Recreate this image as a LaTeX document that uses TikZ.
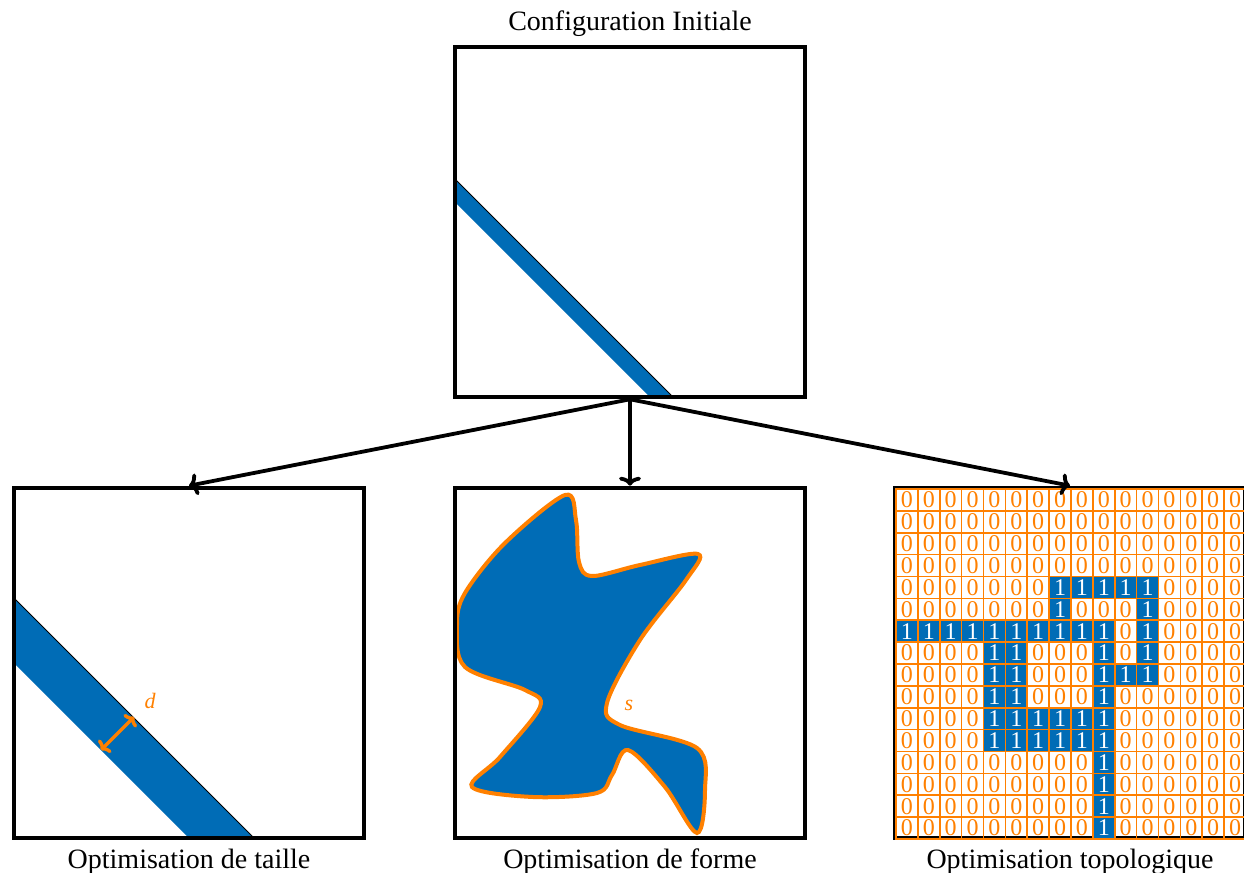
\documentclass[tikz,border=0pt]{standalone}
\usepackage{fontspec}
\setmainfont{Liberation Serif}
\usepackage{tikz}
\usetikzlibrary{arrows.meta, positioning}
\definecolor{pblue}{RGB}{0,108,182}
\definecolor{porange}{RGB}{255,128,0}
\tikzstyle{panel} = [rectangle, minimum width=175pt, minimum height=175pt, draw=black, line width=2.3pt, inner sep=0pt]
\tikzstyle{ptitle} = [font=\fontsize{14}{17}\selectfont, inner sep=0pt]
\tikzstyle{band} = [fill=pblue]
\tikzstyle{edge} = [draw=black, line width=0.4pt]
\tikzstyle{cell0} = [rectangle, minimum size=10.9375pt, inner sep=0pt, draw=porange, line width=0.8pt, text=porange, font=\fontsize{12}{12}\selectfont]
\tikzstyle{cell1} = [cell0, fill=pblue, text=white]
\tikzstyle{param} = [text=porange, font=\fontsize{11}{12}\selectfont\itshape]
\tikzstyle{arrow} = [line width=1.9pt, -{To[length=4.5pt, width=11pt]}]
\tikzstyle{darrow} = [line width=1.7pt, draw=porange, {To[length=3.5pt, width=9pt]}-{To[length=3.5pt, width=9pt]}]

\begin{document}
\begin{tikzpicture}[x=0.5pt, y=-0.5pt]
\useasboundingbox (0,0) rectangle (1244,873);
% bandes diagonales
\fill [band] (455,179) -- (674,398) -- (651,398) -- (455,202) -- cycle;
\draw [edge] (455,179) -- (674,398);
\fill [band] (14,598) -- (254,838) -- (189,838) -- (14,663) -- cycle;
\draw [edge] (14,598) -- (254,838);
% forme libre
\draw [porange, line width=2pt, fill=pblue] plot [smooth cycle, tension=0.55] coordinates {
  (565,495) (576,520) (579,562) (592,576) (640,565) (698,554) (686,580)
  (640,640) (607,703) (620,725) (697,748) (705,790) (697,833) (665,787)
  (628,750) (612,775) (597,793) (533,797) (472,787) (500,757) (540,707)
  (525,690) (465,667) (457,625) (465,593) (505,543)};
% cadres
\node (init) [panel] at (630,222) {};
\node (taille) [panel] at (189,663) {};
\node (forme) [panel] at (630,663) {};
\node (topo) [panel] at (1070,663) {};
% grille de densite
\foreach \row [count=\r from 0] in {
  {0,0,0,0,0,0,0,0,0,0,0,0,0,0,0,0},
  {0,0,0,0,0,0,0,0,0,0,0,0,0,0,0,0},
  {0,0,0,0,0,0,0,0,0,0,0,0,0,0,0,0},
  {0,0,0,0,0,0,0,0,0,0,0,0,0,0,0,0},
  {0,0,0,0,0,0,0,1,1,1,1,1,0,0,0,0},
  {0,0,0,0,0,0,0,1,0,0,0,1,0,0,0,0},
  {1,1,1,1,1,1,1,1,1,1,0,1,0,0,0,0},
  {0,0,0,0,1,1,0,0,0,1,0,1,0,0,0,0},
  {0,0,0,0,1,1,0,0,0,1,1,1,0,0,0,0},
  {0,0,0,0,1,1,0,0,0,1,0,0,0,0,0,0},
  {0,0,0,0,1,1,1,1,1,1,0,0,0,0,0,0},
  {0,0,0,0,1,1,1,1,1,1,0,0,0,0,0,0},
  {0,0,0,0,0,0,0,0,0,1,0,0,0,0,0,0},
  {0,0,0,0,0,0,0,0,0,1,0,0,0,0,0,0},
  {0,0,0,0,0,0,0,0,0,1,0,0,0,0,0,0},
  {0,0,0,0,0,0,0,0,0,1,0,0,0,0,0,0}}
  \foreach \v [count=\c from 0] in \row
    \node (c-\r-\c) [cell\v] at ({896+21.875*(\c+0.5)}, {489+21.875*(\r+0.5)}) {\v};
% parametres
\draw [darrow] (101,750) -- (134,717);
\node (d) [param] at (150,701) {d};
\node (s) [param] at (629,705) {s};
% titres
\node (tinit) [ptitle, above=4pt of init] {Configuration Initiale};
\node (ttaille) [ptitle, below=4pt of taille] {Optimisation de taille};
\node (tforme) [ptitle, below=4pt of forme] {Optimisation de forme};
\node (ttopo) [ptitle, below=4pt of topo] {Optimisation topologique};
% fleches
\draw [arrow] (init.south) -- (taille.north);
\draw [arrow] (init.south) -- (forme.north);
\draw [arrow] (init.south) -- (topo.north);
\end{tikzpicture}
\end{document}
